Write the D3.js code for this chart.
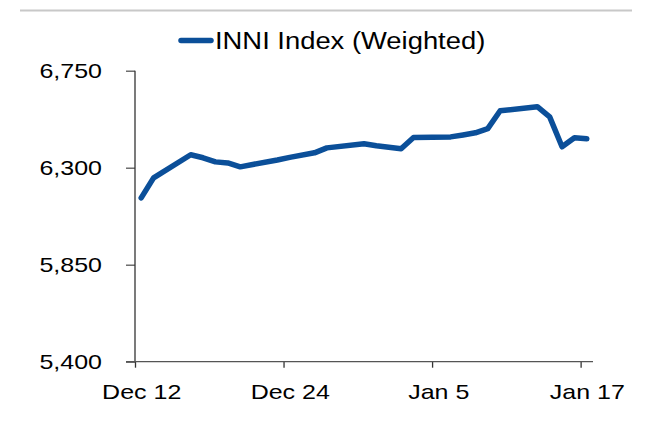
<!DOCTYPE html>
<html>
<head>
<meta charset="utf-8">
<script src="https://cdn.jsdelivr.net/npm/d3@7"></script>
<style>
  html, body { margin: 0; padding: 0; background: #fff; }
  svg { display: block; }
  text { font-family: "Liberation Sans", Arial, sans-serif; fill: #000; }
</style>
</head>
<body>
<svg id="chart" width="646" height="444"></svg>
<script>
// ---- data ----
const dates = [
  "2019-12-12","2019-12-13","2019-12-16","2019-12-17","2019-12-18","2019-12-19","2019-12-20",
  "2019-12-23","2019-12-24","2019-12-26","2019-12-27","2019-12-30","2019-12-31",
  "2020-01-02","2020-01-03","2020-01-06","2020-01-07","2020-01-08","2020-01-09","2020-01-10",
  "2020-01-13","2020-01-14","2020-01-15","2020-01-16","2020-01-17"
];
const values = [
  6160, 6253, 6360, 6346, 6327, 6322, 6304,
  6336, 6348, 6369, 6392, 6411, 6402,
  6388, 6440, 6443, 6452, 6462, 6481, 6564,
  6583, 6536, 6397, 6439, 6434
];
const seriesName = "INNI Index (Weighted)";
const xTickDates = ["2019-12-12","2019-12-24","2020-01-05","2020-01-17"];
const yTickValues = [5400, 5850, 6300, 6750];
const xDomain = ["2019-12-12","2020-01-18"];
const yDomain = [5400, 6750];

// ---- layout ----
const parse = d3.utcParse("%Y-%m-%d");
const DAY = 864e5;
const STRETCH = 1.19; // text in the reference is slightly wide
const svg = d3.select("#chart");
const plotLeft = 135, plotRight = 593, plotTop = 70.7, plotBottom = 361.7;

const x = d3.scaleUtc().domain(xDomain.map(parse)).range([plotLeft, plotRight]);
const y = d3.scaleLinear().domain(yDomain).range([plotBottom, plotTop]);
const halfDay = x(new Date(parse(xDomain[0]).getTime() + DAY / 2)) - plotLeft;

const data = dates.map((d, i) => ({ date: parse(d), value: values[i] }));

function widen(sel) {
  sel.each(function () {
    const w = this.getComputedTextLength();
    d3.select(this).attr("textLength", w * STRETCH).attr("lengthAdjust", "spacingAndGlyphs");
  });
}

// top rule
svg.append("line")
  .attr("x1", 20).attr("x2", 632).attr("y1", 10.5).attr("y2", 10.5)
  .attr("stroke", "#c8c8c8").attr("stroke-width", 2);

// legend
const legend = svg.append("g");
legend.append("line")
  .attr("x1", 181).attr("x2", 211).attr("y1", 40.5).attr("y2", 40.5)
  .attr("stroke", "#0b4f99").attr("stroke-width", 5.5).attr("stroke-linecap", "round");
legend.append("text")
  .attr("x", 215).attr("y", 48.5)
  .attr("font-size", 23)
  .text(seriesName)
  .call(widen);

// y axis
const yAxis = svg.append("g")
  .attr("transform", `translate(${plotLeft},0)`)
  .call(d3.axisLeft(y).tickValues(yTickValues).tickFormat(d3.format(",")).tickSize(9).tickPadding(24));
yAxis.select(".domain").remove();
yAxis.selectAll(".tick line").attr("stroke", "#555").attr("stroke-width", 1.3);
yAxis.selectAll(".tick text").attr("font-size", 21).attr("fill", "#000")
  .attr("font-family", "Liberation Sans, Arial, sans-serif")
  .call(widen);
svg.append("line")
  .attr("x1", plotLeft).attr("x2", plotLeft).attr("y1", plotTop).attr("y2", plotBottom)
  .attr("stroke", "#333").attr("stroke-width", 1.3);

// x axis
const xAxis = svg.append("g")
  .attr("transform", `translate(0,${plotBottom})`)
  .call(d3.axisBottom(x).tickValues(xTickDates.map(parse))
    .tickFormat(d3.utcFormat("%b %-d")).tickSize(6).tickPadding(16));
xAxis.select(".domain").remove();
xAxis.selectAll(".tick line").attr("stroke", "#333").attr("stroke-width", 1.3);
xAxis.selectAll(".tick text").attr("font-size", 21).attr("fill", "#000")
  .attr("font-family", "Liberation Sans, Arial, sans-serif")
  .attr("x", halfDay)
  .call(widen);
svg.append("line")
  .attr("x1", plotLeft - 9).attr("x2", plotRight).attr("y1", plotBottom).attr("y2", plotBottom)
  .attr("stroke", "#555").attr("stroke-width", 1.3);

// series line (points placed mid-day)
const line = d3.line()
  .x(d => x(d.date) + halfDay)
  .y(d => y(d.value));
svg.append("path")
  .datum(data)
  .attr("d", line)
  .attr("fill", "none")
  .attr("stroke", "#0b4f99")
  .attr("stroke-width", 5.5)
  .attr("stroke-linejoin", "round")
  .attr("stroke-linecap", "round");
</script>
</body>
</html>
